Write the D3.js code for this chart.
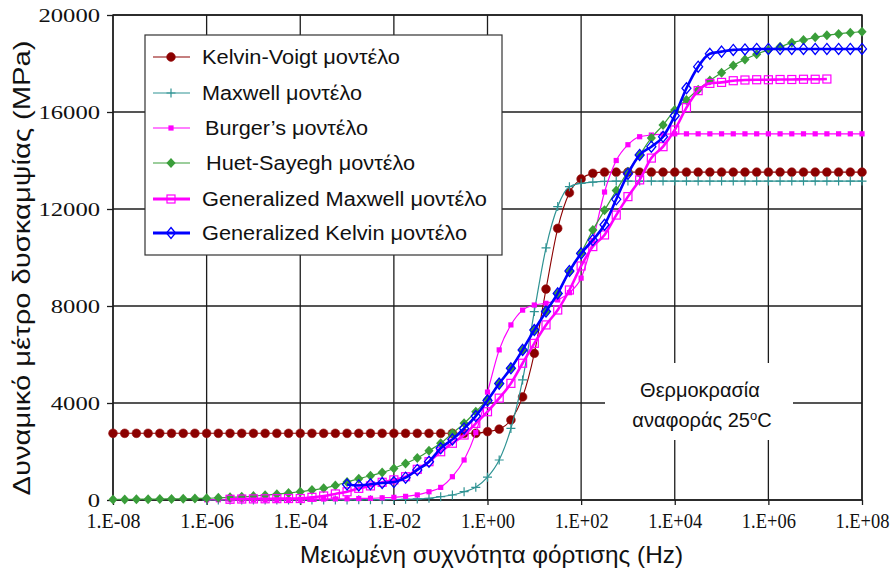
<!DOCTYPE html>
<html><head><meta charset="utf-8">
<script src="https://cdn.jsdelivr.net/npm/d3@7"></script>
<style>body{margin:0;background:#fff}</style>
</head><body><svg id="c" width="896" height="575"></svg>
<script>
// ---------- DATA ----------
// shared frequency grid: exponents of 10 (Hz)
const logFreq = [-8,-7.75,-7.5,-7.25,-7,-6.75,-6.5,-6.25,-6,-5.75,-5.5,-5.25,-5,-4.75,-4.5,-4.25,
  -4,-3.75,-3.5,-3.25,-3,-2.75,-2.5,-2.25,-2,-1.75,-1.5,-1.25,-1,-0.75,-0.5,-0.25,
  0,0.25,0.5,0.75,1,1.25,1.5,1.75,2,2.25,2.5,2.75,3,3.25,3.5,3.75,
  4,4.25,4.5,4.75,5,5.25,5.5,5.75,6,6.25,6.5,6.75,7,7.25,7.5,7.75,8];

const xTickExps = [-8,-6,-4,-2,0,2,4,6,8];
const xTickLabels = ["1.E-08","1.E-06","1.E-04","1.E-02","1.E+00","1.E+02","1.E+04","1.E+06","1.E+08"];
const yTicks = [0,4000,8000,12000,16000,20000];
const yTickLabels = ["0","4000","8000","12000","16000","20000"];

const seriesNames = ["Kelvin-Voigt μοντέλο","Maxwell μοντέλο","Burger’s μοντέλο","Huet-Sayegh μοντέλο","Generalized Maxwell μοντέλο","Generalized Kelvin μοντέλο"];
const seriesStartExp = [-8,-6,-6,-8,-5.5,-3];

const kelvinVoigt = [2750,2750,2750,2750,2750,2750,2750,2750,2750,2750,2750,2750,2750,2750,2750,2750,
  2750,2750,2750,2750,2750,2750,2750,2750,2750,2750,2750,2750,2750,2750,2750,2750,
  2820,2920,3300,4250,6050,8700,11200,12670,13240,13470,
  13520,13520,13520,13520,13520,13520,13520,13520,13520,13520,13520,13520,13520,13520,13520,13520,13520,13520,13520,13520,13520,13520,13520];

const maxwell = [0,0,0,0,0,0,2,2,3,3,4,4,
  5,7,10,14,20,30,45,70,136,206,342,523,940,1650,2950,4950,7770,10400,12100,12920,13060,13110,13140,
  13150,13150,13150,13150,13150,13150,13150,13150,13150,13150,13150,13150,13150,13150,13150,13150,13150,13150,13150,13150,13150,13150];

const burgers = [10,10,10,12,15,18,20,25,30,35,40,45,50,60,70,90,110,150,210,340,520,960,1650,2780,
  4450,6190,7220,7830,8040,8110,8250,8550,9150,10700,12700,14000,14650,14980,15050,15080,
  15100,15100,15100,15100,15100,15100,15100,15100,15100,15100,15100,15100,15100,15100,15100,15100,15100];

const huetSayegh = [20,25,30,35,40,45,50,60,70,90,110,130,160,200,240,290,340,
  410,480,600,740,880,1000,1130,1300,
  1510,1730,2030,2340,2750,3160,3640,4150,
  4800,5430,6190,7010,7770,8520,9410,10200,
  11130,11950,12760,13540,14230,14930,15460,16080,
  16500,16920,17300,17620,17920,18170,18380,18560,
  18690,18860,18970,19080,19160,19220,19270,19310];

const genMaxwell = [30,40,45,50,55,60,60,110,165,250,340,480,580,730,830,960,
  1265,1580,1990,2340,2680,3160,3640,4200,4810,5640,6460,7220,7835,8660,9650,10450,
  10930,11750,12510,13200,14100,14570,15260,16180,16880,17180,17220,17290,
  17320,17330,17330,17340,17340,17350,17350,17360];

const genKelvin = [640,600,650,700,740,920,1240,1580,2130,2500,2950,3460,4100,
  4800,5430,6190,7010,7770,8520,9440,10170,
  10720,11350,12400,13450,14230,14570,14980,15850,
  16980,17870,18400,18490,18560,18580,
  18600,18600,18600,18600,18600,18600,18600,18600,18600,18600];

const seriesValues = [kelvinVoigt, maxwell, burgers, huetSayegh, genMaxwell, genKelvin];

// ---------- STYLE ----------
const styles = [
  {color:"#8b0000", width:1.1, marker:"circle"},
  {color:"#2f9393", width:1.2, marker:"plus"},
  {color:"#ff00ff", width:1.2, marker:"smallsquare"},
  {color:"#3a9e3a", width:1.2, marker:"diamond"},
  {color:"#ff00ff", width:2.6, marker:"opensquare"},
  {color:"#0000ff", width:2.6, marker:"opendiamond"}
];

const svg = d3.select("#c");
const L = 113, R = 862, T = 15, B = 500;
const x = d3.scaleLog().domain([1e-8,1e8]).range([L,R]);
const y = d3.scaleLinear().domain([0,20000]).range([B,T]);

// grid
const grid = svg.append("g").attr("stroke","#1c1c1c").attr("stroke-width",1.3);
xTickExps.forEach(e=>{
  grid.append("line").attr("x1",x(Math.pow(10,e))).attr("x2",x(Math.pow(10,e))).attr("y1",T).attr("y2",B);
});
yTicks.forEach(v=>{
  grid.append("line").attr("x1",L).attr("x2",R).attr("y1",y(v)).attr("y2",y(v));
});
svg.append("rect").attr("x",L).attr("y",T).attr("width",R-L).attr("height",B-T)
  .attr("fill","none").attr("stroke","#1c1c1c").attr("stroke-width",1.4);

// axes
const yAxis = d3.axisLeft(y).tickValues(yTicks).tickSize(6).tickPadding(7)
  .tickFormat((d,i)=>yTickLabels[i]);
const gy = svg.append("g").attr("transform",`translate(${L},0)`).call(yAxis);
gy.select(".domain").remove();
gy.selectAll(".tick line").attr("stroke","#1c1c1c").attr("stroke-width",1.3);
gy.selectAll("text").attr("font-family","'Liberation Serif','Times New Roman',serif")
  .attr("font-size",19).attr("fill","#111")
  .attr("textLength",(d,i)=>yTickLabels[i].length*12.3).attr("lengthAdjust","spacingAndGlyphs");

const xAxis = d3.axisBottom(x).tickValues(xTickExps.map(e=>Math.pow(10,e))).tickSize(5).tickPadding(9)
  .tickFormat((d,i)=>xTickLabels[i]);
const gx = svg.append("g").attr("transform",`translate(0,${B})`).call(xAxis);
gx.select(".domain").remove();
gx.selectAll(".tick line").attr("stroke","#1c1c1c").attr("stroke-width",1.3);
gx.selectAll("text").attr("font-family","'Liberation Serif','Times New Roman',serif")
  .attr("font-size",20).attr("fill","#111")
  .attr("textLength",54).attr("lengthAdjust","spacingAndGlyphs");

// annotation box
svg.append("rect").attr("x",605).attr("y",363).attr("width",188).attr("height",77).attr("fill","#fff");
const ann = svg.append("text").attr("font-family","'Liberation Sans',Arial,sans-serif")
  .attr("font-size",20).attr("fill","#111").attr("text-anchor","middle");
ann.append("tspan").attr("x",700).attr("y",397).text("Θερμοκρασία");
const l2 = ann.append("tspan").attr("x",702).attr("y",427);
l2.text("αναφοράς 25");
ann.append("tspan").attr("font-size",13).attr("dy",-7).text("o");
ann.append("tspan").attr("dy",7).text("C");

// markers
function drawMarker(g, type, color, cx, cy){
  switch(type){
    case "circle":
      g.append("circle").attr("cx",cx).attr("cy",cy).attr("r",4.4).attr("fill",color).attr("stroke","#9a1a1a").attr("stroke-width",0.6); break;
    case "plus":
      g.append("path").attr("d",`M${cx-4.5},${cy}H${cx+4.5}M${cx},${cy-4.5}V${cy+4.5}`).attr("stroke",color).attr("stroke-width",1.2).attr("fill","none"); break;
    case "smallsquare":
      g.append("rect").attr("x",cx-2.6).attr("y",cy-2.6).attr("width",5.2).attr("height",5.2).attr("fill",color); break;
    case "diamond":
      g.append("path").attr("d",`M${cx},${cy-5}L${cx+4.6},${cy}L${cx},${cy+5}L${cx-4.6},${cy}Z`).attr("fill",color); break;
    case "opensquare":
      g.append("rect").attr("x",cx-4).attr("y",cy-4).attr("width",8).attr("height",8).attr("fill","none").attr("stroke",color).attr("stroke-width",1.2); break;
    case "opendiamond":
      g.append("path").attr("d",`M${cx},${cy-5.5}L${cx+4.5},${cy}L${cx},${cy+5.5}L${cx-4.5},${cy}Z`).attr("fill","none").attr("stroke",color).attr("stroke-width",1.3); break;
  }
}

const line = d3.line().x(d=>x(d.f)).y(d=>y(d.v)).curve(d3.curveMonotoneX);

seriesValues.forEach((vals, si)=>{
  const start = logFreq.indexOf(seriesStartExp[si]);
  const pts = vals.map((v,i)=>({f:Math.pow(10,logFreq[start+i]), v}));
  const st = styles[si];
  const g = svg.append("g");
  g.append("path").datum(pts).attr("d",line).attr("fill","none")
    .attr("stroke",st.color).attr("stroke-width",st.width);
  pts.forEach(p=>drawMarker(g, st.marker, st.color, x(p.f), y(p.v)));
});

// legend
svg.append("rect").attr("x",145).attr("y",35).attr("width",357).attr("height",220)
  .attr("fill","#fff").attr("stroke","#333").attr("stroke-width",1.2);
const legY = [57,93,128,163,199,233];
const legTextX = [202,202,205,206,202,202];
const legW = [198,160,163,209,285,265];
seriesNames.forEach((n,i)=>{
  const st = styles[i];
  const g = svg.append("g");
  g.append("line").attr("x1",153).attr("x2",190).attr("y1",legY[i]).attr("y2",legY[i])
    .attr("stroke",st.color).attr("stroke-width",st.width>2?3:1.2);
  drawMarker(g, st.marker, st.color, 171, legY[i]);
  g.append("text").attr("x",legTextX[i]).attr("y",legY[i]+7).text(n)
    .attr("font-family","'Liberation Sans',Arial,sans-serif").attr("font-size",20).attr("fill","#111")
    .attr("textLength",legW[i]).attr("lengthAdjust","spacingAndGlyphs");
});

// axis titles
svg.append("text").attr("x",(L+R)/2+4).attr("y",563).attr("text-anchor","middle")
  .attr("font-family","'Liberation Sans',Arial,sans-serif").attr("font-size",24).attr("fill","#111")
  .attr("textLength",383).attr("lengthAdjust","spacingAndGlyphs")
  .text("Μειωμένη συχνότητα φόρτισης (Hz)");
svg.append("text").attr("transform","translate(30,268) rotate(-90)").attr("text-anchor","middle")
  .attr("font-family","'Liberation Sans',Arial,sans-serif").attr("font-size",24).attr("fill","#111")
  .attr("textLength",455).attr("lengthAdjust","spacingAndGlyphs")
  .text("Δυναμικό μέτρο δυσκαμψίας (MPa)");
</script></body></html>
